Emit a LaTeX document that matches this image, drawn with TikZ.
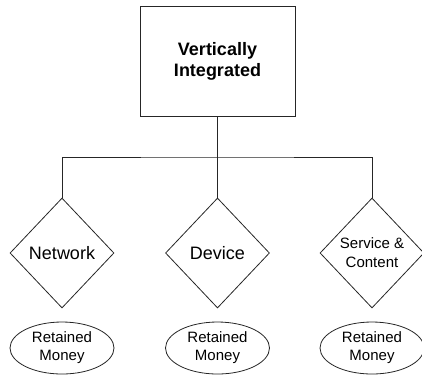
\documentclass[tikz,border=0pt]{standalone}
\usepackage{fontspec}
\setmainfont{Liberation Sans}
\usetikzlibrary{shapes.geometric}
\begin{document}
\begin{tikzpicture}[x=1pt,y=-1pt,
  every node/.style={align=center, inner sep=0pt, text=black},
  line/.style={draw=black!85, line width=0.8pt},
  topbox/.style={line, rectangle, minimum width=155pt, minimum height=110pt,
    font=\fontsize{18}{21}\selectfont\bfseries},
  segment/.style={line, diamond, minimum width=104pt, minimum height=110pt},
  bigtxt/.style={font=\fontsize{18}{21}\selectfont},
  smalltxt/.style={font=\fontsize{15}{19}\selectfont},
  money/.style={line, ellipse, minimum width=104pt, minimum height=52pt,
    font=\fontsize{15}{18}\selectfont}]
  \useasboundingbox (0,0) rectangle (422,376);

  % parent
  \node[topbox] (vi) at (217.5,61) {Vertically\\Integrated};

  % segments
  \node[segment, bigtxt] (net) at (62,253) {Network};
  \node[segment, bigtxt] (dev) at (217.5,253) {Device};
  \node[segment, smalltxt] (svc) at (372,253) {Service \&\\Content};

  % retained money under each segment
  \node[money] (m1) at (62,348) {Retained\\Money};
  \node[money] (m2) at (217.5,348) {Retained\\Money};
  \node[money] (m3) at (372,348) {Retained\\Money};

  % tree connectors
  \coordinate (hub) at (217.5,157);
  \draw[line] (vi.south) -- (hub);
  \draw[line] (net.north) |- (hub) -| (svc.north);
  \draw[line] (hub) -- (dev.north);
\end{tikzpicture}
\end{document}
